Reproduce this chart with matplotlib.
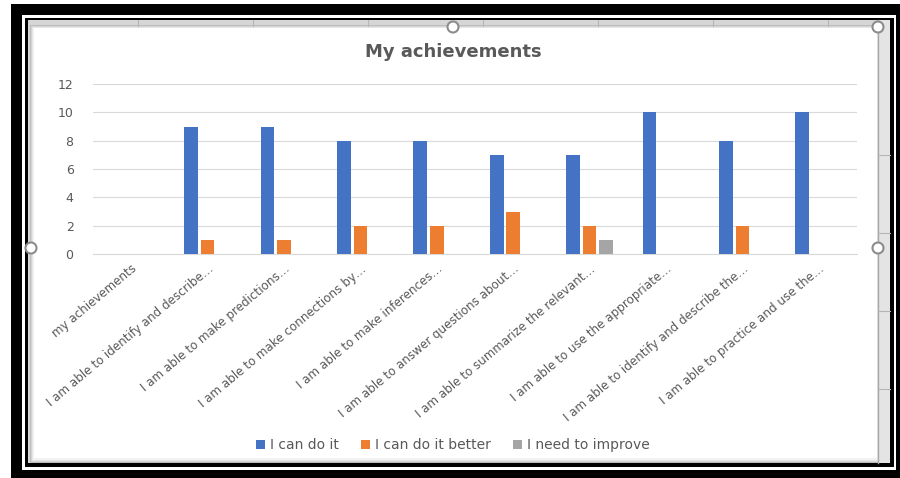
import matplotlib
matplotlib.use("Agg")
import matplotlib.pyplot as plt
from matplotlib.patches import Rectangle, Circle
import numpy as np

categories = [
    "my achievements",
    "I am able to identify and describe…",
    "I am able to make predictions…",
    "I am able to make connections by…",
    "I am able to make inferences…",
    "I am able to answer questions about…",
    "I am able to summarize the relevant…",
    "I am able to use the appropriate…",
    "I am able to identify and describe the…",
    "I am able to practice and use the…",
]
can_do = [0, 9, 9, 8, 8, 7, 7, 10, 8, 10]
can_do_better = [0, 1, 1, 2, 2, 3, 2, 0, 2, 0]
need_improve = [0, 0, 0, 0, 0, 0, 1, 0, 0, 0]
series_names = ["I can do it", "I can do it better", "I need to improve"]
colors = ["#4472C4", "#ED7D31", "#A5A5A5"]
txt = "#595959"

W, H = 900, 478
plt.rcParams["font.family"] = ["DejaVu Sans"]
fig = plt.figure(figsize=(9, 4.78), dpi=100)

# --- frame / screenshot decoration in pixel coords ---
bg = fig.add_axes([0, 0, 1, 1], zorder=0)
bg.set_xlim(0, W); bg.set_ylim(H, 0); bg.axis("off")

def rect(x0, y0, x1, y1, **kw):
    bg.add_patch(Rectangle((x0, y0), x1 - x0, y1 - y0, **kw))

rect(11, 4, 900, 478, color="black", lw=0)
rect(22, 15, 896, 470, color="white", lw=0)
rect(24.5, 17.5, 893.5, 467, color="black", lw=0)
rect(28, 20, 890, 463, color="#d6d6d6", lw=0)
# soft shadow round the chart area
for i, g in enumerate(["#bdbdbd", "#d4d4d4", "#e6e6e6", "#f2f2f2"]):
    rect(30 + i, 25 + i, 880 - i, 463 - i, color=g, lw=0)
rect(34, 28, 877, 458, color="white", lw=0)
# right-side sheet strip and cell lines
rect(878, 20, 890, 463, color="#e4e4e4", lw=0)
bg.plot([878, 878], [20, 463], color="#a8a8a8", lw=1)
for y in [155, 233, 311, 389]:
    bg.plot([878, 890], [y, y], color="#b5b5b5", lw=0.8)
for x in [138, 253, 368, 483, 598, 713, 828]:
    bg.plot([x, x], [20, 26], color="#b5b5b5", lw=0.8)
# selection handles
for cx, cy in [(453, 27), (878, 27), (878, 248), (31, 248)]:
    bg.add_patch(Circle((cx, cy), 5.5, facecolor="white", edgecolor="#8c8c8c", lw=1.5, zorder=5))

# --- chart ---
ax = fig.add_axes([93 / W, 1 - 254 / H, (857 - 93) / W, (254 - 84) / H], zorder=2)
ax.patch.set_alpha(0)
x = np.arange(len(categories))
wid, off = 0.18, 0.215
for k, (vals, name, c) in enumerate(zip([can_do, can_do_better, need_improve], series_names, colors)):
    ax.bar(x + (k - 1) * off, vals, width=wid, color=c, label=name, zorder=3)

ax.set_xlim(-0.5, len(categories) - 0.5)
ax.set_ylim(0, 12)
ax.set_yticks(range(0, 13, 2))
ax.yaxis.grid(True, color="#d9d9d9", lw=0.8)
ax.set_axisbelow(True)
for s in ["top", "right", "left"]:
    ax.spines[s].set_visible(False)
ax.spines["bottom"].set_color("#d9d9d9")
ax.tick_params(axis="y", length=0, pad=14, labelsize=9, labelcolor=txt)
ax.tick_params(axis="x", length=0, pad=6, labelsize=8.6, labelcolor=txt)
ax.set_xticks(x)
ax.set_xticklabels(categories, rotation=40, ha="right", rotation_mode="anchor")

fig.text(453 / W, 1 - 52 / H, "My achievements", ha="center", va="center",
         fontsize=13, fontweight="bold", color=txt, zorder=3)

leg = fig.legend(loc="center", bbox_to_anchor=(453 / W, 1 - 445 / H), ncol=3,
                 frameon=False, fontsize=10, handlelength=0.6, handleheight=0.6,
                 handletextpad=0.4, columnspacing=1.6, labelcolor=txt)
leg.set_zorder(3)

fig.savefig("out.png", dpi=100)
